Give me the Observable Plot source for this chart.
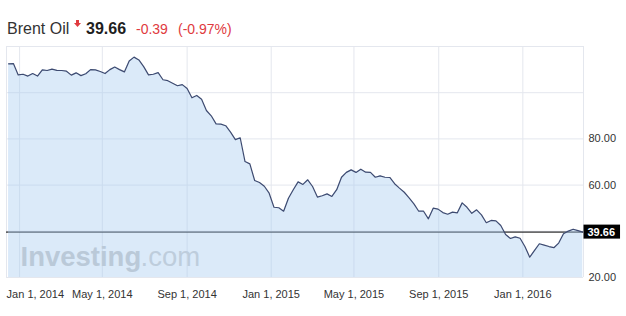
<!DOCTYPE html>
<html>
<head>
<meta charset="utf-8">
<script src="https://cdn.jsdelivr.net/npm/d3@7"></script>
<script src="https://cdn.jsdelivr.net/npm/@observablehq/plot@0.6"></script>
<style>
  html, body { margin: 0; padding: 0; background: #fff; }
  body { width: 626px; height: 316px; overflow: hidden; font-family: "Liberation Sans", Arial, sans-serif; }
  svg { display: block; }
</style>
</head>
<body>
<svg id="title" width="626" height="40" style="font-family:'Liberation Sans',Arial,sans-serif">
  <text x="7" y="34" font-size="16" fill="#333">Brent Oil</text>
  <polygon points="76,20 79,20 79,23 81,23 77.5,27 74,23 76,23" fill="#e03a3e"></polygon>
  <text x="86" y="34" font-size="16" font-weight="bold" fill="#1e1e1e">39.66</text>
  <text x="136" y="34" font-size="14" fill="#e03a3e">-0.39</text>
  <text x="178" y="34" font-size="14" fill="#e03a3e">(-0.97%)</text>
</svg>
<div id="chart"></div>
<script>
// Weekly Brent closes (week starting Monday)
const firstWeek = "2013-12-16";
const lastWeek = "2016-03-28";
const prices = [
  112.5, 112.6, 107.7, 108.0, 107.2, 108.3, 107.2, 109.9, 109.6, 110.2,
  109.7, 109.6, 109.3, 107.6, 108.6, 107.4, 108.2, 110.0, 109.9, 109.2,
  108.3, 110.0, 111.1, 110.0, 109.0, 113.7, 115.4, 114.2, 111.3, 107.7,
  108.0, 108.7, 105.6, 105.2, 104.1, 103.0, 103.5, 101.8, 97.8, 98.8,
  97.2, 92.3, 90.0, 86.5, 86.4, 85.7, 82.9, 79.7, 80.5, 70.2,
  69.2, 62.0, 61.1, 59.5, 56.5, 50.4, 50.2, 48.7, 54.3, 58.0,
  61.4, 60.3, 62.3, 59.4, 54.8, 55.4, 56.2, 55.1, 58.0, 63.4,
  65.5, 66.6, 65.5, 66.9, 65.6, 65.5, 63.4, 64.0, 63.4, 63.3,
  60.6, 58.7, 56.9, 54.5, 51.9, 48.7, 48.7, 45.4, 50.0, 49.6,
  48.1, 47.4, 48.3, 48.0, 52.3, 50.4, 47.8, 49.3, 47.1, 43.7,
  44.7, 44.5, 42.5, 38.6, 36.9, 37.6, 37.0, 33.4, 28.8, 31.7,
  34.6, 34.0, 33.4, 32.9, 34.9, 38.9, 40.1, 40.9, 40.3, 39.66
];
const lastPrice = 39.66;
const xDomain = ["2013-12-13", "2016-03-29"];
const yDomain = [20, 120];
const gridDates = ["2014-01-01", "2014-05-01", "2014-09-01", "2015-01-01", "2015-05-01", "2015-09-01", "2016-01-01"];
const gridValues = [20, 40, 60, 80, 100, 120];
const yTickLabels = [20, 60, 80];
const watermark = ["Investing", ".com"];

const weeks = d3.utcMonday.range(new Date(firstWeek), d3.utcDay.offset(new Date(lastWeek), 1));
const data = prices.map((p, i) => ({date: weeks[i], price: p}));
const gDates = gridDates.map(d => new Date(d));
const fmt = d3.utcFormat("%b %-d, %Y");
const gridColor = "#e4e7ee";
const font = "Liberation Sans, Arial, sans-serif";

const chart = Plot.plot({
  width: 626,
  height: 276,
  marginTop: 6,
  marginBottom: 39,
  marginLeft: 6,
  marginRight: 43,
  style: {fontFamily: font, fontSize: "11px", color: "#333", background: "transparent", overflow: "visible"},
  x: {type: "utc", domain: xDomain.map(d => new Date(d)), axis: null},
  y: {domain: yDomain, axis: null},
  marks: [
    Plot.ruleY(gridValues, {stroke: gridColor, strokeWidth: 1}),
    Plot.ruleX(gDates, {y1: yDomain[0], y2: yDomain[1], stroke: gridColor, strokeWidth: 1}),
    Plot.ruleX(xDomain.map(d => new Date(d)), {y1: yDomain[0], y2: yDomain[1], stroke: gridColor, strokeWidth: 1}),
    Plot.ruleY([lastPrice], {stroke: "#000", strokeWidth: 1}),
    Plot.text([watermark[0]], {text: d => d, frameAnchor: "bottom-left", textAnchor: "start", lineAnchor: "bottom", dx: 14, dy: -12, fontSize: 27.5, fontWeight: "bold", fill: "#c9c9c9"}),
    Plot.text([watermark[1]], {text: d => d, frameAnchor: "bottom-left", textAnchor: "start", lineAnchor: "bottom", dx: 134, dy: -12, fontSize: 27.5, fill: "#cfcfcf"}),
    Plot.areaY(data, {x: "date", y1: yDomain[0], y2: "price", fill: "#a6caf0", fillOpacity: 0.4}),
    Plot.lineY(data, {x: "date", y: "price", stroke: "#3d4a70", strokeWidth: 1.2}),
    Plot.axisY({anchor: "right", label: null, ticks: yTickLabels, tickFormat: d => d.toFixed(2), tickSize: 0, tickPadding: 5, fontSize: 11}),
    Plot.axisX({label: null, ticks: gDates.slice(1), tickFormat: fmt, tickSize: 0, tickPadding: 13, fontSize: 11}),
    Plot.text([gDates[0]], {x: d => d, text: fmt, frameAnchor: "bottom", textAnchor: "start", lineAnchor: "top", dx: -13, dy: 13, fontSize: 11, fill: "#333"}),
    Plot.text([lastPrice], {y: d => d, text: d => d.toFixed(2), frameAnchor: "right", textAnchor: "start", dx: 4, fill: "#fff", fontWeight: "bold", fontSize: 11})
  ]
});
document.getElementById("chart").appendChild(chart);

// black box behind the last-price label
chart.querySelectorAll("text").forEach(t => {
  if (t.textContent === lastPrice.toFixed(2)) {
    const b = t.getBBox();
    const cy = b.y + b.height / 2;
    const r = document.createElementNS("http://www.w3.org/2000/svg", "rect");
    r.setAttribute("x", b.x - 4);
    r.setAttribute("y", cy - 7);
    r.setAttribute("width", b.width + 9);
    r.setAttribute("height", 14);
    r.setAttribute("fill", "#000");
    const tr = t.getAttribute("transform");
    if (tr) r.setAttribute("transform", tr);
    t.parentNode.insertBefore(r, t);
  }
});
</script>
</body>
</html>
